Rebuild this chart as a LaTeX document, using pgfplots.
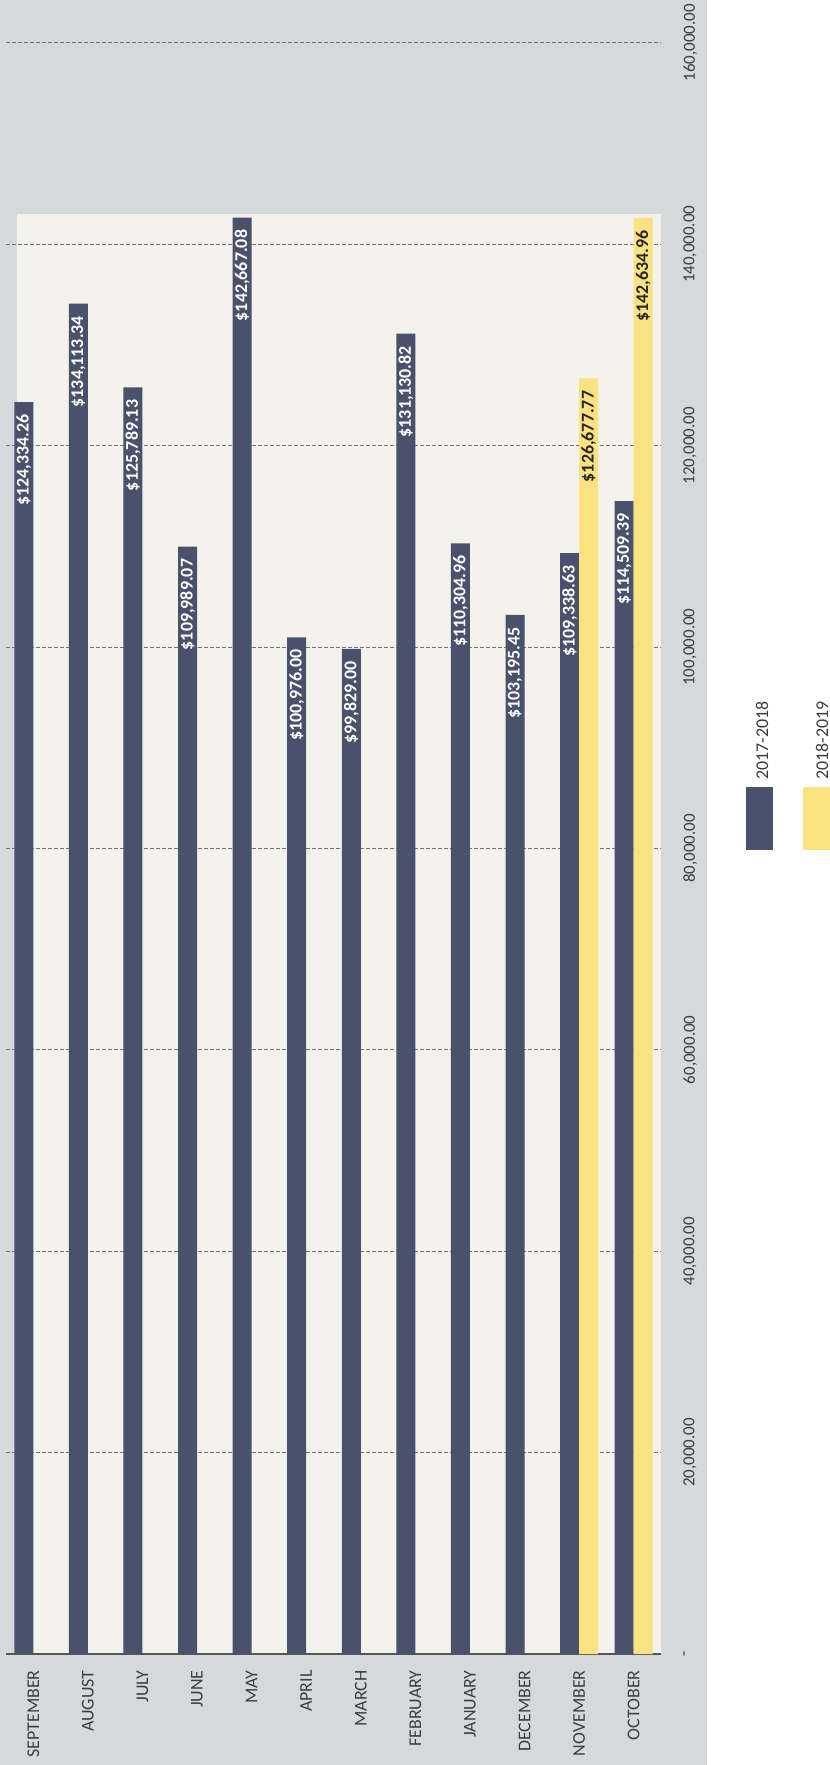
\documentclass[border=0pt]{standalone}
\usepackage{fontspec}
\setmainfont{Carlito}
\usepackage{pgfplots}
\pgfplotsset{compat=1.18}
\usepackage{pgfplotstable}

\definecolor{barnavy}{RGB}{74,81,108}
\definecolor{baryellow}{RGB}{250,226,128}
\definecolor{pagegrey}{RGB}{214,217,219}
\definecolor{panel}{RGB}{243,243,236}
\definecolor{txtgrey}{RGB}{60,60,60}
\definecolor{gridgrey}{RGB}{115,115,115}
\definecolor{axisgrey}{RGB}{85,85,85}

% 2017-2018, months Sep..Oct at positions 0..11
\pgfplotstableread{
x y label
0 124334.26 124,334.26
1 134113.34 134,113.34
2 125789.13 125,789.13
3 109989.07 109,989.07
4 142667.08 142,667.08
5 100976.00 100,976.00
6 99829.00 99,829.00
7 131130.82 131,130.82
8 110304.96 110,304.96
9 103195.45 103,195.45
10 109338.63 109,338.63
11 114509.39 114,509.39
}\firstyear

% 2018-2019
\pgfplotstableread{
x y label
10 126677.77 126,677.77
11 142634.96 142,634.96
}\secondyear

\begin{document}
\begin{tikzpicture}
% page background and the lighter plot panel (plot area's lower left corner is at the origin)
\fill[pagegrey] (-3bp,-55.5bp) rectangle (350.5bp,827bp);
\fill[panel] (5.5bp,0) rectangle (327.5bp,720bp);

\begin{axis}[
    name=ax,
    at={(0,0)}, anchor=south west,
    scale only axis,
    width=327.5bp, height=805.5bp,
    xmin=-0.5, xmax=11.5,
    ymin=0, ymax=160000,
    scaled y ticks=false,
    ybar=0pt, bar width=9.5bp,
    axis x line*=bottom,
    axis y line*=right,
    y axis line style={draw=none},
    x axis line style={draw=axisgrey, line width=1bp},
    major tick length=0pt,
    xtick={0,...,11},
    xticklabels={SEPTEMBER,AUGUST,JULY,JUNE,MAY,APRIL,MARCH,FEBRUARY,JANUARY,DECEMBER,NOVEMBER,OCTOBER},
    xticklabel style={rotate=90, anchor=east, inner xsep=8bp, inner ysep=0pt,
        font=\fontsize{9}{10}\selectfont, text=txtgrey},
    ytick={0,20000,...,160000},
    yticklabels={-,{20,000.00},{40,000.00},{60,000.00},{80,000.00},{100,000.00},{120,000.00},{140,000.00},{160,000.00}},
    yticklabel style={rotate=90, anchor=north, inner sep=0pt,
        font=\fontsize{8.5}{10}\selectfont, text=txtgrey},
    yticklabel shift=11bp,
    ymajorgrids,
    grid style={dash pattern=on 2bp off 1bp, gridgrey, line width=0.5bp},
    clip=false,
]
\addplot[fill=barnavy, draw=none,
    point meta=explicit symbolic,
    nodes near coords={\$\pgfplotspointmeta},
    nodes near coords style={rotate=90, anchor=east, inner xsep=6bp, inner ysep=0pt,
        font=\bfseries\fontsize{9}{10}\selectfont, text=white}]
    table[x=x, y=y, meta=label] {\firstyear};
\addplot[fill=baryellow, draw=none,
    point meta=explicit symbolic,
    nodes near coords={\$\pgfplotspointmeta},
    nodes near coords style={rotate=90, anchor=east, inner xsep=6bp, inner ysep=0pt,
        font=\bfseries\fontsize{9}{10}\selectfont, text=black!85}]
    table[x=x, y=y, meta=label] {\secondyear};
\end{axis}

% legend, rotated like the rest
\fill[barnavy] (370bp,402bp) rectangle (383.5bp,433.5bp);
\node[rotate=90, anchor=west, inner sep=0pt, font=\fontsize{9}{10}\selectfont, text=txtgrey]
    at (378bp,437bp) {2017-2018};
\fill[baryellow] (398.5bp,402bp) rectangle (413bp,433.5bp);
\node[rotate=90, anchor=west, inner sep=0pt, font=\fontsize{9}{10}\selectfont, text=txtgrey]
    at (408bp,437bp) {2018-2019};

\pgfresetboundingbox
\path[use as bounding box] (-3bp,-55.5bp) rectangle (412bp,827bp);
\end{tikzpicture}
\end{document}
